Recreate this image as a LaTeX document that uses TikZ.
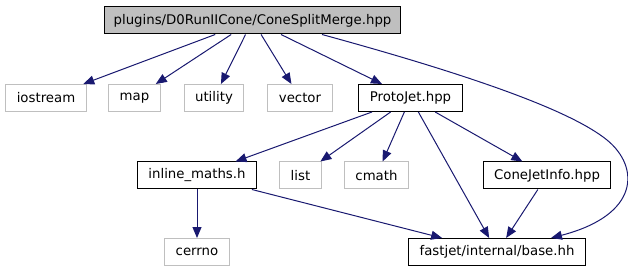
\documentclass[tikz,border=0pt]{standalone}
\usepackage{fontspec}
\setmainfont{DejaVu Sans}
\usepackage{tikz}
\usetikzlibrary{arrows.meta, calc}
\definecolor{edgeblue}{HTML}{191970}
\definecolor{sysgray}{HTML}{BFBFBF}

\begin{document}
\begin{tikzpicture}[
    x=1pt, y=-1pt,
    header/.style={rectangle, draw=black, line width=1pt, inner xsep=9pt, minimum height=27pt, font=\fontsize{13.3}{16}\selectfont},
    filebox/.style={header, inner xsep=11pt},
    sysbox/.style={filebox, draw=sysgray},
    edge/.style={draw=edgeblue, line width=1pt, -{Triangle[length=11pt, width=9pt]}},
]
\useasboundingbox (0,0) rectangle (628,272);

\node[header, fill=sysgray] (main) at (252.5,20.5) {plugins/D0RunIICone/ConeSplitMerge.hpp};

\node[sysbox] (iostream) at (46,98) {iostream};
\node[sysbox] (map) at (134.5,98) {map};
\node[sysbox] (utility) at (214,98) {utility};
\node[sysbox] (vector) at (300,98) {vector};
\node[filebox] (protojet) at (410.5,98) {ProtoJet.hpp};

\node[filebox] (inlinemaths) at (197,175.5) {inline\_maths.h};
\node[sysbox] (list) at (300.5,175.5) {list};
\node[sysbox] (cmath) at (376.5,175.5) {cmath};
\node[filebox] (conejetinfo) at (547,175.5) {ConeJetInfo.hpp};

\node[sysbox] (cerrno) at (197,252) {cerrno};
\node[filebox] (base) at (497,252) {fastjet/internal/base.hh};

\draw[edge] (main) -- (iostream);
\draw[edge] (main) -- (map);
\draw[edge] (main) -- (utility);
\draw[edge] (main) -- (vector);
\draw[edge] (main) -- (protojet);
\draw[edge] ($(main.south)+(69.5,0)$) .. controls (470,75) and (570,110) .. (607,140)
    .. controls (640,167) and (640,215) .. ($(base.north)+(54,0)$);

\draw[edge] (protojet) -- (inlinemaths);
\draw[edge] (protojet) -- (list);
\draw[edge] (protojet) -- (cmath);
\draw[edge] (protojet) -- (base);
\draw[edge] (protojet) -- (conejetinfo);

\draw[edge] (inlinemaths) -- (cerrno);
\draw[edge] (inlinemaths) -- (base);
\draw[edge] (conejetinfo) -- (base);

\end{tikzpicture}
\end{document}
